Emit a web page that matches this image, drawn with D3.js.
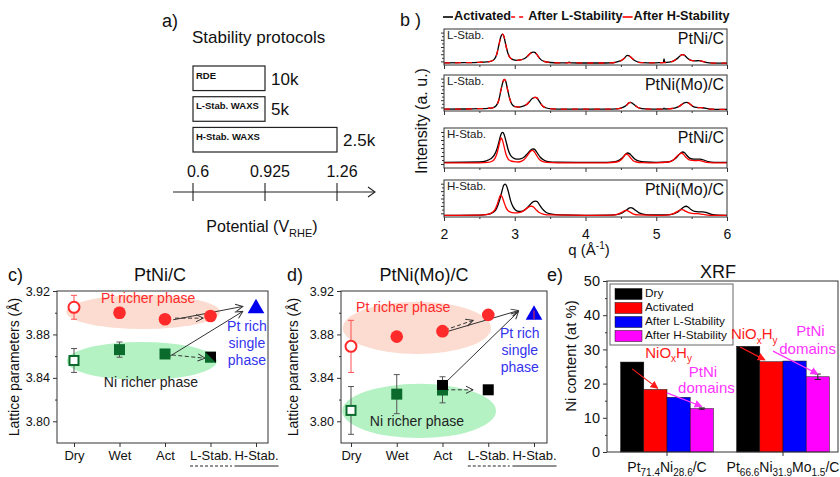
<!DOCTYPE html>
<html>
<head>
<meta charset="utf-8">
<script src="https://cdn.jsdelivr.net/npm/d3@7"></script>
<style>
  body { margin: 0; background: #fff; }
  svg { font-family: "Liberation Sans", Arial, sans-serif; }
</style>
</head>
<body>
<div id="chart"></div>
<script>
// ---------- data: panel a ----------
var potentialTicks = ['0.6', '0.925', '1.26'];
var protocols = ['RDE', 'L-Stab. WAXS', 'H-Stab. WAXS'];
var protocolUpper = ['0.925', '0.925', '1.26'];
var protocolCycles = ['10k', '5k', '2.5k'];

// ---------- data: panel b (q in 1/A, intensity normalised to panel height) ----------
var qTicks = [2, 3, 4, 5, 6];
var qMinor = [2.5, 3.5, 4.5, 5.5];
var xrdStab = ['L-Stab.', 'L-Stab.', 'H-Stab.', 'H-Stab.'];
var xrdSample = ['PtNi/C', 'PtNi(Mo)/C', 'PtNi/C', 'PtNi(Mo)/C'];
var xrdLegend = ['Activated', 'After L-Stability', 'After H-Stability'];

var xrdActivated = [
  [[2.00,0.06],[2.30,0.065],[2.50,0.075],[2.60,0.085],[2.656,0.10],[2.706,0.15],[2.746,0.30],[2.776,0.56],[2.806,0.80],[2.826,0.86],[2.846,0.80],[2.871,0.58],[2.901,0.34],[2.931,0.21],[2.976,0.15],[3.03,0.13],[3.08,0.14],[3.14,0.18],[3.184,0.25],[3.214,0.31],[3.244,0.35],[3.264,0.36],[3.284,0.35],[3.309,0.30],[3.339,0.22],[3.369,0.15],[3.414,0.10],[3.50,0.07],[3.62,0.06],[3.74,0.06],[3.77,0.08],[3.80,0.06],[4.00,0.055],[4.20,0.055],[4.36,0.06],[4.42,0.075],[4.47,0.10],[4.51,0.13],[4.55,0.19],[4.57,0.24],[4.594,0.27],[4.62,0.25],[4.65,0.20],[4.69,0.13],[4.73,0.09],[4.80,0.065],[4.95,0.06],[5.05,0.065],[5.10,0.07],[5.11,0.17],[5.12,0.07],[5.18,0.08],[5.24,0.11],[5.29,0.17],[5.33,0.24],[5.355,0.28],[5.377,0.29],[5.40,0.27],[5.43,0.21],[5.47,0.15],[5.51,0.12],[5.56,0.115],[5.60,0.12],[5.64,0.11],[5.69,0.08],[5.75,0.06],[5.85,0.05],[6.00,0.05]],
  [[2.00,0.05],[2.30,0.055],[2.50,0.065],[2.62,0.075],[2.684,0.09],[2.734,0.14],[2.774,0.30],[2.804,0.57],[2.834,0.82],[2.854,0.88],[2.874,0.82],[2.899,0.59],[2.929,0.34],[2.959,0.19],[3.004,0.12],[3.06,0.11],[3.11,0.13],[3.168,0.18],[3.208,0.26],[3.238,0.33],[3.268,0.37],[3.288,0.38],[3.308,0.37],[3.333,0.31],[3.363,0.22],[3.393,0.14],[3.438,0.09],[3.52,0.06],[3.70,0.05],[4.00,0.05],[4.30,0.05],[4.44,0.06],[4.50,0.08],[4.55,0.12],[4.59,0.18],[4.61,0.22],[4.63,0.24],[4.655,0.225],[4.685,0.18],[4.725,0.12],[4.765,0.08],[4.84,0.06],[5.00,0.05],[5.10,0.055],[5.11,0.08],[5.12,0.055],[5.23,0.07],[5.29,0.10],[5.34,0.15],[5.38,0.21],[5.405,0.235],[5.43,0.24],[5.455,0.225],[5.485,0.18],[5.525,0.12],[5.565,0.10],[5.61,0.095],[5.66,0.09],[5.71,0.07],[5.78,0.05],[5.90,0.045],[6.00,0.045]],
  [[2.00,0.14],[2.50,0.15],[2.60,0.18],[2.66,0.23],[2.71,0.32],[2.75,0.48],[2.78,0.68],[2.805,0.84],[2.826,0.89],[2.85,0.84],[2.875,0.68],[2.905,0.47],[2.94,0.32],[2.98,0.25],[3.03,0.22],[3.08,0.23],[3.13,0.27],[3.18,0.36],[3.22,0.44],[3.245,0.47],[3.265,0.475],[3.29,0.45],[3.32,0.37],[3.36,0.27],[3.41,0.20],[3.47,0.16],[3.60,0.145],[3.90,0.14],[4.30,0.14],[4.42,0.16],[4.49,0.21],[4.54,0.29],[4.57,0.35],[4.595,0.375],[4.62,0.36],[4.655,0.30],[4.70,0.22],[4.76,0.17],[4.85,0.15],[5.00,0.14],[5.15,0.15],[5.22,0.18],[5.28,0.25],[5.32,0.33],[5.35,0.38],[5.375,0.40],[5.40,0.38],[5.44,0.30],[5.48,0.24],[5.53,0.22],[5.58,0.22],[5.62,0.22],[5.67,0.20],[5.73,0.16],[5.82,0.14],[6.00,0.14]],
  [[2.00,0.045],[2.50,0.05],[2.62,0.07],[2.69,0.12],[2.74,0.22],[2.785,0.45],[2.815,0.67],[2.842,0.85],[2.863,0.89],[2.885,0.84],[2.91,0.68],[2.94,0.45],[2.975,0.28],[3.01,0.19],[3.06,0.15],[3.11,0.16],[3.16,0.22],[3.21,0.32],[3.25,0.40],[3.275,0.425],[3.297,0.43],[3.32,0.41],[3.35,0.33],[3.39,0.22],[3.44,0.13],[3.52,0.08],[3.65,0.055],[4.00,0.045],[4.35,0.05],[4.46,0.07],[4.53,0.12],[4.58,0.19],[4.615,0.24],[4.64,0.255],[4.665,0.24],[4.70,0.19],[4.75,0.12],[4.81,0.08],[4.90,0.06],[5.10,0.055],[5.22,0.07],[5.29,0.12],[5.35,0.21],[5.39,0.27],[5.42,0.29],[5.45,0.27],[5.49,0.20],[5.54,0.15],[5.60,0.14],[5.66,0.14],[5.71,0.12],[5.78,0.07],[5.88,0.05],[6.00,0.045]]
];

var xrdAfter = [
  [[2.00,0.06],[2.30,0.065],[2.50,0.075],[2.60,0.085],[2.656,0.10],[2.706,0.15],[2.746,0.30],[2.776,0.56],[2.806,0.80],[2.826,0.855],[2.846,0.80],[2.871,0.58],[2.901,0.34],[2.931,0.21],[2.976,0.15],[3.03,0.13],[3.08,0.14],[3.14,0.18],[3.184,0.25],[3.214,0.31],[3.244,0.35],[3.264,0.355],[3.284,0.35],[3.309,0.30],[3.339,0.22],[3.369,0.15],[3.414,0.10],[3.50,0.07],[3.62,0.06],[3.80,0.06],[4.00,0.055],[4.20,0.055],[4.36,0.06],[4.42,0.075],[4.47,0.10],[4.51,0.13],[4.55,0.19],[4.57,0.24],[4.594,0.27],[4.62,0.25],[4.65,0.20],[4.69,0.13],[4.73,0.09],[4.80,0.065],[4.95,0.06],[5.10,0.065],[5.18,0.08],[5.24,0.11],[5.29,0.17],[5.33,0.24],[5.355,0.28],[5.377,0.29],[5.40,0.27],[5.43,0.21],[5.47,0.15],[5.51,0.12],[5.56,0.115],[5.60,0.12],[5.64,0.11],[5.69,0.08],[5.75,0.06],[5.85,0.05],[6.00,0.05]],
  [[2.00,0.05],[2.30,0.055],[2.50,0.065],[2.62,0.075],[2.684,0.09],[2.734,0.14],[2.774,0.30],[2.804,0.57],[2.834,0.82],[2.854,0.875],[2.874,0.82],[2.899,0.59],[2.929,0.34],[2.959,0.19],[3.004,0.12],[3.06,0.11],[3.11,0.13],[3.168,0.18],[3.208,0.26],[3.238,0.33],[3.268,0.37],[3.288,0.38],[3.308,0.37],[3.333,0.31],[3.363,0.22],[3.393,0.14],[3.438,0.09],[3.52,0.06],[3.70,0.05],[4.00,0.05],[4.30,0.05],[4.44,0.06],[4.50,0.08],[4.55,0.12],[4.59,0.18],[4.61,0.22],[4.63,0.24],[4.655,0.225],[4.685,0.18],[4.725,0.12],[4.765,0.08],[4.84,0.06],[5.00,0.05],[5.23,0.07],[5.29,0.10],[5.34,0.15],[5.38,0.21],[5.405,0.235],[5.43,0.24],[5.455,0.225],[5.485,0.18],[5.525,0.12],[5.565,0.10],[5.61,0.095],[5.66,0.09],[5.71,0.07],[5.78,0.05],[5.90,0.045],[6.00,0.045]],
  [[2.00,0.13],[2.50,0.13],[2.62,0.14],[2.68,0.17],[2.72,0.24],[2.75,0.37],[2.775,0.55],[2.795,0.70],[2.807,0.75],[2.825,0.70],[2.85,0.53],[2.875,0.35],[2.905,0.23],[2.94,0.18],[2.99,0.16],[3.05,0.15],[3.10,0.17],[3.15,0.24],[3.19,0.34],[3.22,0.41],[3.245,0.44],[3.27,0.42],[3.30,0.34],[3.34,0.23],[3.38,0.17],[3.45,0.14],[3.60,0.13],[4.30,0.13],[4.44,0.15],[4.50,0.20],[4.54,0.28],[4.56,0.33],[4.576,0.35],[4.60,0.33],[4.63,0.27],[4.67,0.19],[4.72,0.15],[4.80,0.135],[5.00,0.13],[5.18,0.15],[5.24,0.20],[5.29,0.29],[5.33,0.35],[5.354,0.375],[5.38,0.35],[5.42,0.27],[5.46,0.21],[5.51,0.19],[5.56,0.185],[5.60,0.19],[5.65,0.17],[5.71,0.14],[5.80,0.13],[6.00,0.13]],
  [[2.00,0.045],[2.50,0.05],[2.62,0.07],[2.68,0.12],[2.72,0.20],[2.75,0.33],[2.78,0.51],[2.80,0.59],[2.82,0.55],[2.845,0.42],[2.875,0.26],[2.91,0.16],[2.96,0.12],[3.03,0.11],[3.09,0.13],[3.14,0.19],[3.19,0.26],[3.22,0.285],[3.24,0.29],[3.265,0.27],[3.30,0.20],[3.34,0.13],[3.40,0.08],[3.50,0.055],[4.00,0.045],[4.38,0.05],[4.46,0.08],[4.52,0.13],[4.555,0.17],[4.57,0.18],[4.59,0.17],[4.63,0.13],[4.68,0.08],[4.75,0.055],[5.00,0.045],[5.18,0.06],[5.25,0.10],[5.31,0.16],[5.35,0.20],[5.38,0.19],[5.42,0.15],[5.47,0.11],[5.53,0.09],[5.58,0.09],[5.63,0.08],[5.70,0.06],[5.80,0.045],[6.00,0.045]]
];

// ---------- data: panels c, d (lattice parameter, A) ----------
var stages = ['Dry', 'Wet', 'Act', 'L-Stab.', 'H-Stab.'];
var latticeTicks = [3.80, 3.84, 3.88, 3.92];
var latticeMinor = [3.82, 3.86, 3.90];

var cPtRich = [3.905, 3.900, 3.894, 3.897];
var cPtErr = [0.011, 0.005, 0, 0];
var cNiRich = [3.856, 3.866, 3.862, 3.859];
var cNiErr = [0.011, 0.007, 0.003, 0];
var cSingle = 3.904;

var dPtRich = [3.869, 3.878, 3.883, 3.898];
var dPtErr = [0.024, 0, 0, 0];
var dNiRich = [3.810, 3.825, 3.829, 3.829];
var dNiErr = [0.022, 0.018, 0.012, 0];
var dNiActOverlay = 3.833;
var dSingle = 3.898;
var dSingleErr = 0.004;

// ---------- data: panel e (Ni content, at %) ----------
var xrfSeries = ['Dry', 'Activated', 'After L-Stability', 'After H-Stability'];
var xrfGroups = ['PtNi', 'PtNiMo'];
var xrfGroupLabels = [
  [['Pt', 0], ['71.4', 1], ['Ni', 0], ['28.6', 1], ['/C', 0]],
  [['Pt', 0], ['66.6', 1], ['Ni', 0], ['31.9', 1], ['Mo', 0], ['1.5', 1], ['/C', 0]]
];
var xrfDry = [26.3, 30.9];
var xrfActivated = [18.3, 26.4];
var xrfLStab = [16.0, 26.6];
var xrfHStab = [12.7, 22.0];
var xrfHErr = [0.2, 0.8];
var xrfTicks = [0, 10, 20, 30, 40, 50];
var xrfMinor = [5, 15, 25, 35, 45];

// ---------- page ----------
var svg = d3.select('#chart').append('svg')
    .attr('width', 840)
    .attr('height', 477);

var defs = svg.append('defs');
defs.append('marker').attr('id', 'openHead')
    .attr('viewBox', '0 0 10 10').attr('refX', 9).attr('refY', 5)
    .attr('markerWidth', 9).attr('markerHeight', 9)
    .attr('markerUnits', 'userSpaceOnUse').attr('orient', 'auto')
  .append('path').attr('d', 'M1,1L9,5L1,9')
    .attr('fill', 'none').attr('stroke', '#333').attr('stroke-width', 1.1);
[['redHead', '#ff1a1a'], ['magHead', '#ff33ff']].forEach(function(m) {
  defs.append('marker').attr('id', m[0])
      .attr('viewBox', '0 0 10 10').attr('refX', 9).attr('refY', 5)
      .attr('markerWidth', 8).attr('markerHeight', 8)
      .attr('markerUnits', 'userSpaceOnUse').attr('orient', 'auto')
    .append('path').attr('d', 'M0,0L10,5L0,10Z').attr('fill', m[1]);
});

// text with subscripts
function richText(g, parts, x, y, size, subSize, anchor, color) {
  var t = g.append('text').attr('x', x).attr('y', y)
      .attr('text-anchor', anchor).attr('fill', color)
      .style('font-size', size + 'px');
  var sub = false;
  parts.forEach(function(p) {
    var ts = t.append('tspan').text(p[0]);
    if (p[1] && !sub) { ts.attr('dy', size * 0.3); sub = true; }
    else if (!p[1] && sub) { ts.attr('dy', -size * 0.3); sub = false; }
    if (p[1]) ts.style('font-size', subSize + 'px');
  });
  return t;
}

function letter(txt, x, y) {
  svg.append('text').attr('x', x).attr('y', y).text(txt)
      .style('font-size', '18px').attr('fill', '#111');
}

// ================= panel a =================
(function() {
  var g = svg.append('g');
  var xa = d3.scalePoint().domain(potentialTicks).range([193, 337]);
  var rows = d3.scaleBand().domain(protocols).range([66, 152]).paddingInner(0.2);

  letter('a)', 162, 27);
  g.append('text').attr('x', 192).attr('y', 43).text('Stability protocols')
      .style('font-size', '17px').attr('fill', '#111');

  protocols.forEach(function(p, i) {
    var x0 = xa('0.6'), x1 = xa(protocolUpper[i]), y0 = rows(p);
    g.append('rect').attr('x', x0).attr('y', y0)
        .attr('width', x1 - x0).attr('height', rows.bandwidth())
        .attr('fill', 'none').attr('stroke', '#222').attr('stroke-width', 1.2);
    g.append('text').attr('x', x0 + 3).attr('y', y0 + 10).text(p)
        .attr('dominant-baseline', 'middle')
        .style('font-size', '9.5px').style('font-weight', 'bold').attr('fill', '#111');
    g.append('text').attr('x', x1 + 6).attr('y', y0 + rows.bandwidth() / 2 + 2)
        .attr('dominant-baseline', 'middle').text(protocolCycles[i])
        .style('font-size', '17px').attr('fill', '#111');
  });

  var ay = 192;
  g.append('line').attr('x1', 173).attr('x2', 375).attr('y1', ay).attr('y2', ay)
      .attr('stroke', '#222').attr('stroke-width', 1.1);
  g.append('path').attr('d', 'M368,187L375,192L368,197')
      .attr('fill', 'none').attr('stroke', '#222').attr('stroke-width', 1.1);
  potentialTicks.forEach(function(t) {
    g.append('line').attr('x1', xa(t)).attr('x2', xa(t)).attr('y1', ay - 9).attr('y2', ay + 9)
        .attr('stroke', '#222').attr('stroke-width', 1.1);
    g.append('text').attr('x', xa(t) + 5).attr('y', 177).attr('text-anchor', 'middle')
        .text(t).style('font-size', '16px').attr('fill', '#111');
  });
  richText(g, [['Potential (V', 0], ['RHE', 1], [')', 0]], 262, 232, 16, 11, 'middle', '#111');
})();

// ================= panel b =================
(function() {
  var g = svg.append('g');
  var xq = d3.scaleLinear().domain([2, 6]).range([444, 727]);
  var frames = [[29, 65], [75, 111], [128, 168], [180, 217]];
  var line = d3.line().curve(d3.curveMonotoneX)
      .x(function(d) { return xq(d[0]); });

  letter('b )', 400, 26);

  xrdActivated.forEach(function(curve, i) {
    var top = frames[i][0], bot = frames[i][1];
    var y = d3.scaleLinear().domain([0, 1]).range([bot, top]);
    line.y(function(d) { return y(d[1]); });
    var p = g.append('g');

    p.append('g').attr('transform', 'translate(0,' + bot + ')')
        .call(d3.axisBottom(xq).tickValues(qTicks).tickSize(4).tickPadding(8)
          .tickFormat(i === 3 ? d3.format('d') : ''))
        .call(function(a) {
          a.select('.domain').remove();
          a.selectAll('text').style('font-size', '14px').style('font-family', 'inherit').attr('fill', '#111');
          a.selectAll('line').attr('stroke', '#333');
        });
    p.append('g').attr('transform', 'translate(0,' + bot + ')')
        .call(d3.axisBottom(xq).tickValues(qMinor).tickSize(2).tickFormat(''))
        .call(function(a) { a.select('.domain').remove(); a.selectAll('line').attr('stroke', '#333'); });
    p.append('g').attr('transform', 'translate(444,0)')
        .call(d3.axisLeft(y).tickValues([0.1, 0.3, 0.5, 0.7, 0.9]).tickSize(3).tickFormat(''))
        .call(function(a) { a.select('.domain').remove(); a.selectAll('line').attr('stroke', '#333'); });
    p.append('g').attr('transform', 'translate(444,0)')
        .call(d3.axisLeft(y).tickValues([0.2, 0.4, 0.6, 0.8]).tickSize(2).tickFormat(''))
        .call(function(a) { a.select('.domain').remove(); a.selectAll('line').attr('stroke', '#333'); });

    p.append('path').attr('d', line(curve))
        .attr('fill', 'none').attr('stroke', '#000').attr('stroke-width', 1.3);
    p.append('path').attr('d', line(xrdAfter[i]))
        .attr('fill', 'none').attr('stroke', '#ff0000').attr('stroke-width', 1.3)
        .attr('stroke-dasharray', i < 2 ? '6,5' : null);

    p.append('rect').attr('x', 444).attr('y', top).attr('width', 283).attr('height', bot - top)
        .attr('fill', 'none').attr('stroke', '#333').attr('stroke-width', 1);

    p.append('text').attr('x', 447).attr('y', top + 7).attr('dominant-baseline', 'middle')
        .text(xrdStab[i]).style('font-size', '11.5px').attr('fill', '#222');
    p.append('text').attr('x', 724).attr('y', top + 11).attr('dominant-baseline', 'middle')
        .attr('text-anchor', 'end').text(xrdSample[i])
        .style('font-size', '16px').attr('fill', '#111');
  });

  // legend
  var lg = g.append('g').style('font-size', '12.7px').style('font-weight', 'bold');
  var x = 443, ly = 17;
  var keys = [['#000', null, 10], ['#ff0000', '4,4', 16], ['#ff0000', null, 10]];
  xrdLegend.forEach(function(name, i) {
    lg.append('line').attr('x1', x).attr('x2', x + keys[i][2]).attr('y1', ly).attr('y2', ly)
        .attr('stroke', keys[i][0]).attr('stroke-width', 1.6)
        .attr('stroke-dasharray', keys[i][1]);
    x += keys[i][2] + 1;
    var t = lg.append('text').attr('x', x).attr('y', ly).attr('dominant-baseline', 'middle')
        .text(name).attr('fill', '#111');
    x += t.node().getComputedTextLength();
  });

  g.append('text').attr('transform', 'translate(421,121) rotate(-90)')
      .attr('text-anchor', 'middle').attr('dominant-baseline', 'central')
      .text('Intensity (a. u.)').style('font-size', '16px').attr('fill', '#111');
  var qt = g.append('text').attr('x', 589).attr('y', 255).attr('text-anchor', 'middle')
      .style('font-size', '15px').attr('fill', '#111');
  qt.append('tspan').text('q (Å');
  qt.append('tspan').text('-1').attr('dy', -6).style('font-size', '10px');
  qt.append('tspan').text(')').attr('dy', 6);
})();

// ================= panels c, d =================
var yL = d3.scaleLinear().domain([3.78, 3.92]).range([443, 291]);

function latticePanel(o) {
  var g = svg.append('g');
  var xs = d3.scalePoint().domain(stages).range(o.xr);
  var step = xs.step();
  var px = function(i) { return o.xr[0] + i * step; };
  var dy = function(v) { return yL(3.80) - yL(3.80 + v); };
  var green = '#0b6b2c', red = '#ff2a2a';

  letter(o.letter[0], o.letter[1], 281);
  g.append('text').attr('x', o.titleX).attr('y', 281).attr('text-anchor', 'middle')
      .text(o.title).style('font-size', '18px').attr('fill', '#111');

  [[o.pink, '#fcdcd0'], [o.green, '#b4f2c4']].forEach(function(e) {
    g.append('ellipse').attr('cx', px(e[0][0])).attr('cy', yL(e[0][1]))
        .attr('rx', e[0][2] * step).attr('ry', dy(e[0][3])).attr('fill', e[1]);
  });

  g.append('rect').attr('x', o.frame[0]).attr('y', yL(3.92))
      .attr('width', o.frame[1] - o.frame[0]).attr('height', yL(3.78) - yL(3.92))
      .attr('fill', 'none').attr('stroke', '#333').attr('stroke-width', 1);

  g.append('g').attr('transform', 'translate(' + o.frame[0] + ',0)')
      .call(d3.axisLeft(yL).tickValues(latticeTicks).tickSize(4).tickPadding(3).tickFormat(d3.format('.2f')))
      .call(function(a) {
        a.select('.domain').remove();
        a.selectAll('text').style('font-size', '12.5px').style('font-family', 'inherit').attr('fill', '#111');
        a.selectAll('line').attr('stroke', '#333');
      });
  g.append('g').attr('transform', 'translate(' + o.frame[0] + ',0)')
      .call(d3.axisLeft(yL).tickValues(latticeMinor).tickSize(2).tickFormat(''))
      .call(function(a) { a.select('.domain').remove(); a.selectAll('line').attr('stroke', '#333'); });

  g.append('g').attr('transform', 'translate(0,443)')
      .call(d3.axisBottom(xs).tickSize(4).tickPadding(4))
      .call(function(a) {
        a.select('.domain').remove();
        a.selectAll('line').attr('stroke', '#333');
        a.selectAll('text').style('font-size', '13px').style('font-family', 'inherit').attr('fill', '#111');
        a.selectAll('.tick').each(function(d) {
          if (d !== 'L-Stab.' && d !== 'H-Stab.') return;
          var w = this.querySelector('text').getComputedTextLength();
          d3.select(this).append('line').attr('x1', -w / 2).attr('x2', w / 2)
              .attr('y1', 23).attr('y2', 23).attr('stroke', '#222').attr('stroke-width', 1)
              .attr('stroke-dasharray', d === 'L-Stab.' ? '3,2' : null);
        });
      });

  g.append('text').attr('transform', 'translate(' + o.ylabX + ',367) rotate(-90)')
      .attr('text-anchor', 'middle').attr('dominant-baseline', 'central')
      .text('Lattice parameters (Å)').style('font-size', '14px').attr('fill', '#111');

  // phase labels
  g.append('text').attr('x', px(o.ptText[0])).attr('y', yL(o.ptText[1]))
      .attr('text-anchor', 'middle').attr('dominant-baseline', 'middle')
      .text('Pt richer phase').style('font-size', '14px').attr('fill', red);
  g.append('text').attr('x', px(o.niText[0])).attr('y', yL(o.niText[1]))
      .attr('text-anchor', 'middle').attr('dominant-baseline', 'middle')
      .text('Ni richer phase').style('font-size', '14px').attr('fill', '#222');
  ['Pt rich', 'single', 'phase'].forEach(function(s, k) {
    g.append('text').attr('x', px(o.single[0])).attr('y', yL(o.single[1]) + k * 17.3)
        .attr('text-anchor', 'middle').attr('dominant-baseline', 'middle')
        .text(s).style('font-size', '14px').attr('fill', '#3333ee');
  });

  // arrows
  o.arrows.forEach(function(a) {
    g.append('line').attr('x1', px(a[0][0])).attr('y1', yL(a[0][1]))
        .attr('x2', px(a[1][0])).attr('y2', yL(a[1][1]))
        .attr('stroke', '#333').attr('stroke-width', 1)
        .attr('stroke-dasharray', a[2] ? '4,2.5' : null)
        .attr('marker-end', 'url(#openHead)');
  });

  // error bars
  function errBar(x, v, e, color) {
    if (!e) return;
    g.append('line').attr('x1', x).attr('x2', x).attr('y1', yL(v - e)).attr('y2', yL(v + e))
        .attr('stroke', color).attr('stroke-width', 1);
    [v - e, v + e].forEach(function(c) {
      g.append('line').attr('x1', x - 3).attr('x2', x + 3).attr('y1', yL(c)).attr('y2', yL(c))
          .attr('stroke', color).attr('stroke-width', 1);
    });
  }
  o.pt.forEach(function(v, i) { errBar(xs(stages[i]), v, o.ptErr[i], '#ff5050'); });
  o.ni.forEach(function(v, i) { errBar(xs(stages[i]), v, o.niErr[i], '#555'); });

  // Ni richer markers
  var s = 11;
  o.ni.forEach(function(v, i) {
    var x = xs(stages[i]), y = yL(v), kind = o.niKind[i];
    if (kind === 'open') {
      g.append('rect').attr('x', x - s / 2 + 1).attr('y', y - s / 2 + 1)
          .attr('width', s - 2).attr('height', s - 2)
          .attr('fill', '#fff').attr('stroke', green).attr('stroke-width', 2);
      return;
    }
    g.append('rect').attr('x', x - s / 2).attr('y', y - s / 2).attr('width', s).attr('height', s)
        .attr('fill', kind === 'black' ? '#000' : green);
    if (kind === 'half') {
      g.append('path').attr('d', 'M' + (x - s / 2) + ',' + (y - s / 2) + 'h' + s + 'v' + s + 'Z')
          .attr('fill', '#000');
    }
    if (kind === 'overlay') {
      var yb = yL(o.niOverlay);
      g.append('rect').attr('x', x - s / 2).attr('y', yb - s / 2).attr('width', s).attr('height', s)
          .attr('fill', '#000');
      g.append('rect').attr('x', x - s / 2).attr('y', yb + s / 2 - 1).attr('width', s)
          .attr('height', y + s / 2 - (yb + s / 2 - 1)).attr('fill', green);
    }
  });

  // Pt richer markers
  o.pt.forEach(function(v, i) {
    var c = g.append('circle').attr('cx', xs(stages[i])).attr('cy', yL(v));
    if (i === 0) c.attr('r', 5.5).attr('fill', '#fff').attr('stroke', red).attr('stroke-width', 2);
    else c.attr('r', 6.3).attr('fill', red);
  });

  // single phase triangle
  g.append('path').attr('d', d3.symbol(d3.symbolTriangle, 120)())
      .attr('transform', 'translate(' + xs('H-Stab.') + ',' + yL(o.singleVal) + ')')
      .attr('fill', '#0000ee');
  if (o.singleErr) {
    var xh = xs('H-Stab.');
    g.append('line').attr('x1', xh).attr('x2', xh)
        .attr('y1', yL(o.singleVal - o.singleErr)).attr('y2', yL(o.singleVal + o.singleErr))
        .attr('stroke', '#ff3030').attr('stroke-width', 1);
  }
}

latticePanel({
  letter: ['c)', 8], title: 'PtNi/C', titleX: 160, ylabX: 14,
  xr: [74, 256], frame: [57, 268],
  pt: cPtRich, ptErr: cPtErr, ni: cNiRich, niErr: cNiErr,
  niKind: ['open', 'fill', 'fill', 'half'],
  singleVal: cSingle, singleErr: 0,
  pink: [1.52, 3.9007, 1.69, 0.0157], green: [1.49, 3.8555, 1.65, 0.0175],
  ptText: [1.63, 3.9126], niText: [1.69, 3.835], single: [3.8, 3.8868],
  arrows: [
    [[2.18, 3.8935], [3.71, 3.9058], false],
    [[2.11, 3.8600], [3.71, 3.9012], false],
    [[2.22, 3.8950], [2.84, 3.8950], true],
    [[2.15, 3.8611], [2.88, 3.8581], true]
  ]
});

latticePanel({
  letter: ['d)', 287], title: 'PtNi(Mo)/C', titleX: 424, ylabX: 293,
  xr: [351, 534], frame: [341, 547],
  pt: dPtRich, ptErr: dPtErr, ni: dNiRich, niErr: dNiErr,
  niKind: ['open', 'fill', 'overlay', 'black'], niOverlay: dNiActOverlay,
  singleVal: dSingle, singleErr: dSingleErr,
  pink: [1.44, 3.886, 1.62, 0.024], green: [1.49, 3.8095, 1.68, 0.025],
  ptText: [1.14, 3.904], niText: [1.44, 3.7993], single: [3.69, 3.8804],
  arrows: [
    [[2.05, 3.884], [2.67, 3.893], true],
    [[2.05, 3.882], [3.66, 3.902], false],
    [[2.05, 3.835], [3.66, 3.901], false],
    [[2.05, 3.829], [2.67, 3.829], true]
  ]
});

// ================= panel e =================
(function() {
  var g = svg.append('g');
  var colors = ['#000000', '#ff0000', '#0000ff', '#ff00ff'];
  var values = [xrfDry, xrfActivated, xrfLStab, xrfHStab];
  var x0 = d3.scaleBand().domain(xrfGroups).range([609, 841]).paddingInner(0.2).paddingOuter(0.1);
  var x1 = d3.scaleBand().domain(xrfSeries).range([0, x0.bandwidth()]);
  var y = d3.scaleLinear().domain([0, 50]).range([452, 281]);
  var bx = function(gi, idx) { return x0(xrfGroups[gi]) + x1.step() * (idx + 0.5); };

  letter('e)', 547, 281);
  g.append('text').attr('x', 718).attr('y', 278).attr('text-anchor', 'middle')
      .text('XRF').style('font-size', '18px').attr('fill', '#111');

  xrfSeries.forEach(function(sName, si) {
    g.selectAll('.bar' + si).data(values[si]).enter().append('rect')
        .attr('x', function(d, gi) { return x0(xrfGroups[gi]) + x1(sName); })
        .attr('y', function(d) { return y(d); })
        .attr('width', x1.bandwidth())
        .attr('height', function(d) { return y(0) - y(d); })
        .attr('fill', colors[si]).attr('stroke', '#111').attr('stroke-width', 0.5);
  });
  xrfHErr.forEach(function(e, gi) {
    var x = bx(gi, 3), v = xrfHStab[gi];
    g.append('line').attr('x1', x).attr('x2', x).attr('y1', y(v - e)).attr('y2', y(v + e))
        .attr('stroke', '#222').attr('stroke-width', 1);
    [v - e, v + e].forEach(function(c) {
      g.append('line').attr('x1', x - 3).attr('x2', x + 3).attr('y1', y(c)).attr('y2', y(c))
          .attr('stroke', '#222').attr('stroke-width', 1);
    });
  });

  g.append('rect').attr('x', 607).attr('y', 281).attr('width', 231).attr('height', 171)
      .attr('fill', 'none').attr('stroke', '#333').attr('stroke-width', 1);
  g.append('g').attr('transform', 'translate(607,0)')
      .call(d3.axisLeft(y).tickValues(xrfTicks).tickSize(4).tickPadding(3))
      .call(function(a) {
        a.select('.domain').remove();
        a.selectAll('text').style('font-size', '14.5px').style('font-family', 'inherit').attr('fill', '#111');
        a.selectAll('line').attr('stroke', '#333');
      });
  g.append('g').attr('transform', 'translate(607,0)')
      .call(d3.axisLeft(y).tickValues(xrfMinor).tickSize(2).tickFormat(''))
      .call(function(a) { a.select('.domain').remove(); a.selectAll('line').attr('stroke', '#333'); });
  g.append('g').attr('transform', 'translate(0,452)')
      .call(d3.axisBottom(x0).tickSize(4).tickFormat(''))
      .call(function(a) { a.select('.domain').remove(); a.selectAll('line').attr('stroke', '#333'); });
  xrfGroupLabels.forEach(function(parts, gi) {
    richText(g, parts, x0(xrfGroups[gi]) + x0.bandwidth() / 2, 472, 14, 10, 'middle', '#111');
  });
  g.append('text').attr('transform', 'translate(570,356) rotate(-90)')
      .attr('text-anchor', 'middle').attr('dominant-baseline', 'central')
      .text('Ni content (at %)').style('font-size', '15px').attr('fill', '#111');

  // legend
  var lg = g.append('g');
  lg.append('rect').attr('x', 610).attr('y', 284).attr('width', 123).attr('height', 61)
      .attr('fill', '#fff').attr('stroke', '#666').attr('stroke-width', 1);
  xrfSeries.forEach(function(sName, si) {
    var yy = 294 + si * 14;
    lg.append('rect').attr('x', 615).attr('y', yy - 5.5).attr('width', 27).attr('height', 11)
        .attr('fill', colors[si]).attr('stroke', '#111').attr('stroke-width', 0.5);
    lg.append('text').attr('x', 645).attr('y', yy).attr('dominant-baseline', 'middle')
        .text(sName).style('font-size', '11.8px').attr('fill', '#111');
  });

  // annotations
  var notes = [
    { g: 0, red: [[0, 24.3], [1.1, 18.6]], mag: [[1.5, 17.3], [3.0, 13.3]],
      oxide: [1.57, 29.0], ptni: [3.05, 23.0], dom: [3.2, 18.5] },
    { g: 1, red: [[-0.35, 30.7], [0.72, 26.9]], mag: [[1.07, 29.5], [3.0, 22.8]],
      oxide: [0.26, 34.4], ptni: [2.68, 35.1], dom: [2.56, 29.8] }
  ];
  notes.forEach(function(n) {
    g.append('line').attr('x1', bx(n.g, n.red[0][0])).attr('y1', y(n.red[0][1]))
        .attr('x2', bx(n.g, n.red[1][0])).attr('y2', y(n.red[1][1]))
        .attr('stroke', '#ff1a1a').attr('stroke-width', 1.2).attr('marker-end', 'url(#redHead)');
    g.append('line').attr('x1', bx(n.g, n.mag[0][0])).attr('y1', y(n.mag[0][1]))
        .attr('x2', bx(n.g, n.mag[1][0])).attr('y2', y(n.mag[1][1]))
        .attr('stroke', '#ff33ff').attr('stroke-width', 1.2).attr('marker-end', 'url(#magHead)');
    richText(g, [['NiO', 0], ['x', 1], ['H', 0], ['y', 1]],
        bx(n.g, n.oxide[0]), y(n.oxide[1]) + 5, 15, 10, 'middle', '#ff1a1a');
    g.append('text').attr('x', bx(n.g, n.ptni[0])).attr('y', y(n.ptni[1]))
        .attr('text-anchor', 'middle').attr('dominant-baseline', 'middle')
        .text('PtNi').style('font-size', '15px').attr('fill', '#ff33ff');
    g.append('text').attr('x', bx(n.g, n.dom[0])).attr('y', y(n.dom[1]))
        .attr('text-anchor', 'middle').attr('dominant-baseline', 'middle')
        .text('domains').style('font-size', '15px').attr('fill', '#ff33ff');
  });
})();
</script>
</body>
</html>
